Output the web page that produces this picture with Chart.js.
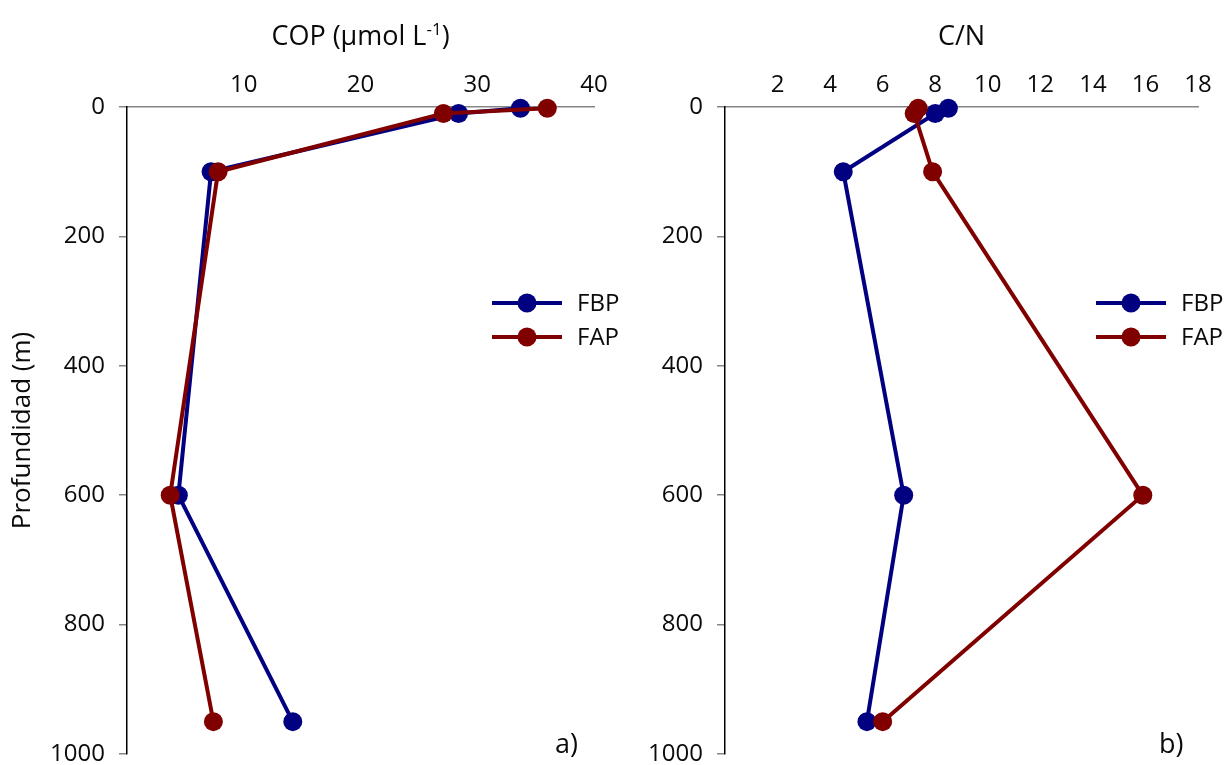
<!DOCTYPE html>
<html>
<head>
<meta charset="utf-8">
<script src="https://cdn.jsdelivr.net/npm/chart.js@4/dist/chart.umd.min.js"></script>
<style>
  html, body { margin: 0; padding: 0; background: #fff; }
  #wrap { position: relative; width: 1225px; height: 765px; overflow: hidden; }
  canvas { position: absolute; top: 0; }
  #cop { left: 0; }
  #cn { left: 612px; }
</style>
</head>
<body>
<div id="wrap">
  <canvas id="cop" width="660" height="765"></canvas>
  <canvas id="cn" width="613" height="765"></canvas>
</div>
<script>
// Sampling depths (m) shared by both profiles
const depths = [2, 10, 100, 600, 950];

// Particulate organic carbon, µmol L-1
const copFBP = [33.7, 28.4, 7.2, 4.4, 14.2];
const copFAP = [36.0, 27.1, 7.8, 3.7, 7.4];

// C/N ratio
const cnFBP = [8.5, 8.0, 4.5, 6.8, 5.4];
const cnFAP = [7.35, 7.2, 7.9, 15.9, 6.0];

const seriesNames = ['FBP', 'FAP'];

// Tick values
const depthTicks = [0, 200, 400, 600, 800, 1000];
const copTicks = [10, 20, 30, 40];
const cnTicks = [2, 4, 6, 8, 10, 12, 14, 16, 18];

const FONT = "'Open Sans', 'DejaVu Sans', sans-serif";
const INK = '#0a0a0a';
const NAVY = '#000080';
const MAROON = '#800000';

// Heading above the top axis (supports a superscript part), line+marker key and panel tag
const panelDecor = {
  id: 'panelDecor',
  afterDraw(chart, args, o) {
    const { ctx, chartArea: a } = chart;
    ctx.save();
    ctx.fillStyle = INK;
    ctx.textBaseline = 'alphabetic';

    // heading
    const big = o.headSize + 'px ' + FONT;
    const small = Math.round(o.headSize * 0.62) + 'px ' + FONT;
    let w = 0;
    o.heading.forEach(p => { ctx.font = p.sup ? small : big; w += ctx.measureText(p.t).width; });
    let x = (a.left + a.right) / 2 - w / 2;
    o.heading.forEach(p => {
      ctx.font = p.sup ? small : big;
      ctx.fillText(p.t, x, o.headBase - (p.sup ? o.headSize * 0.36 : 0));
      x += ctx.measureText(p.t).width;
    });

    // key
    chart.data.datasets.forEach((ds, i) => {
      const y = o.keyTop + i * o.keyGap;
      const cx = a.right - o.keyRight;
      ctx.strokeStyle = ds.borderColor;
      ctx.lineWidth = ds.borderWidth;
      ctx.beginPath();
      ctx.moveTo(cx - 35, y);
      ctx.lineTo(cx + 35, y);
      ctx.stroke();
      ctx.fillStyle = ds.backgroundColor;
      ctx.beginPath();
      ctx.arc(cx, y, ds.pointRadius, 0, Math.PI * 2);
      ctx.fill();
      ctx.fillStyle = INK;
      ctx.font = o.keySize + 'px ' + FONT;
      ctx.textBaseline = 'middle';
      ctx.fillText(ds.label, cx + 50, y + 1);
    });

    // panel tag
    ctx.font = o.tagSize + 'px ' + FONT;
    ctx.textBaseline = 'middle';
    ctx.fillStyle = INK;
    ctx.fillText(o.tag, a.right - 39, o.tagY);
    ctx.restore();
  }
};

function series(label, xs, color, order) {
  return {
    label,
    data: xs.map((v, i) => ({ x: v, y: depths[i] })),
    borderColor: color,
    backgroundColor: color,
    pointBackgroundColor: color,
    pointBorderColor: color,
    borderWidth: 4,
    pointRadius: 9.5,
    pointHoverRadius: 9.5,
    pointBorderWidth: 0,
    tension: 0,
    clip: false,
    order
  };
}

function buildPanel(id, opts) {
  const fixWidth = opts.yWidth;
  new Chart(document.getElementById(id), {
    type: 'line',
    data: {
      datasets: [
        series(seriesNames[0], opts.fbp, NAVY, 1),
        series(seriesNames[1], opts.fap, MAROON, 0)
      ]
    },
    options: {
      responsive: false,
      animation: false,
      devicePixelRatio: 1,
      layout: { padding: { left: 0, top: 0, right: opts.padRight, bottom: 11 } },
      plugins: {
        legend: { display: false },
        tooltip: { enabled: false },
        panelDecor: {
          heading: opts.heading,
          headSize: 27,
          headBase: 45,
          keyTop: 303,
          keyGap: 34,
          keyRight: 67,
          keySize: 24,
          tag: opts.tag,
          tagSize: 27,
          tagY: 745
        }
      },
      scales: {
        x: {
          type: 'linear',
          position: 'top',
          min: 0,
          max: opts.xMax,
          afterBuildTicks: s => { s.ticks = opts.xTicks.map(v => ({ value: v })); },
          afterFit: s => { s.height = 107; s.paddingLeft = 0; s.paddingRight = 0; },
          grid: { display: false, drawTicks: false },
          border: { display: true, color: '#868686', width: 1.5 },
          ticks: {
            padding: 7,
            color: INK,
            font: { family: FONT, size: 24 },
            maxRotation: 0,
            callback: v => String(v)
          }
        },
        y: {
          type: 'linear',
          reverse: true,
          min: 0,
          max: 1000,
          afterBuildTicks: s => { s.ticks = depthTicks.map(v => ({ value: v })); },
          afterFit: s => { s.width = fixWidth; s.paddingTop = 0; s.paddingBottom = 0; },
          grid: { drawOnChartArea: false, drawTicks: true, tickLength: 8, color: '#868686', lineWidth: 1.5 },
          border: { display: true, color: '#000', width: 1.5 },
          ticks: {
            padding: 14,
            color: INK,
            font: { family: FONT, size: 24 },
            callback: v => String(v)
          },
          title: {
            display: opts.yTitle !== '',
            text: opts.yTitle,
            color: INK,
            font: { family: FONT, size: 26 },
            padding: { top: 7, bottom: 0 }
          }
        }
      }
    },
    plugins: [panelDecor]
  });
}

buildPanel('cop', {
  fbp: copFBP, fap: copFAP,
  xMax: 40, xTicks: copTicks,
  yWidth: 127, padRight: 66,
  yTitle: 'Profundidad (m)',
  heading: [{ t: 'COP (µmol L' }, { t: '-1', sup: true }, { t: ')' }],
  tag: 'a)'
});

buildPanel('cn', {
  fbp: cnFBP, fap: cnFAP,
  xMax: 18, xTicks: cnTicks,
  yWidth: 113, padRight: 27,
  yTitle: '',
  heading: [{ t: 'C/N' }],
  tag: 'b)'
});
</script>
</body>
</html>
